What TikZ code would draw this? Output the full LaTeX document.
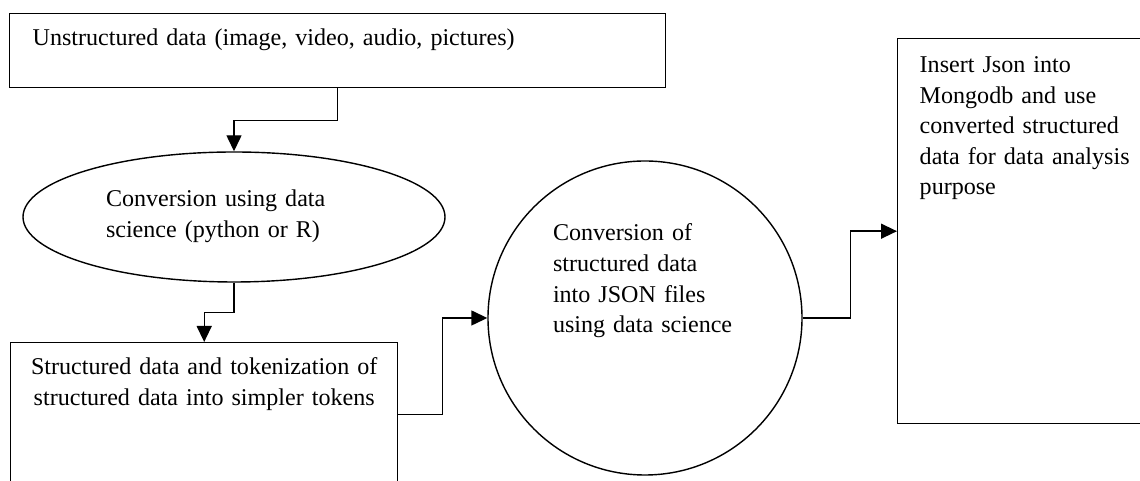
\documentclass[tikz,border=0pt]{standalone}
\usepackage{fontspec}
\setmainfont{Liberation Serif}
\usetikzlibrary{shapes.geometric,arrows.meta}

\begin{document}
\begin{tikzpicture}[
    every node/.style={font=\fontsize{13.7}{17.4}\selectfont},
    stepbox/.style={draw, line width=0.8pt, rectangle, inner ysep=0pt},
    flow/.style={line width=0.8pt, -{Triangle[length=0.32cm, width=0.3cm]}}
  ]
    \useasboundingbox (0,0) rectangle (22.8,9.62);
    \clip (0,0) rectangle (22.8,9.62);

    \node[stepbox, anchor=north west, inner xsep=0.46cm, text width=12.2cm, align=left,
          text height=0.64cm, text depth=0.84cm] (unstr) at (0.18,9.36)
        {Unstructured data (image, video, audio, pictures)};
    \node[draw, line width=0.8pt, ellipse, inner sep=0pt, minimum width=8.44cm, minimum height=2.6cm,
          text width=5.12cm, align=left, text height=0.35cm, text depth=0.75cm] (conv) at (4.68,5.28)
        {Conversion using data\\ science (python or R)};
    \node[stepbox, anchor=north west, inner xsep=0.2cm, text width=7.34cm, align=center,
          text height=0.64cm, text depth=2.24cm] (struct) at (0.2,2.78)
        {Structured data and tokenization of\\ structured data into simpler tokens};
    \node[draw, line width=0.8pt, circle, inner sep=0pt, minimum size=6.28cm, text width=3.68cm,
          align=left, text height=0.4cm, text depth=3.48cm] (json) at (12.9,3.26)
        {Conversion of\\ structured data\\ into JSON files\\ using data science};
    \node[stepbox, anchor=north west, inner xsep=0.44cm, text width=4.6cm, align=left,
          text height=0.68cm, text depth=7.02cm] (mongo) at (17.94,8.86)
        {Insert Json into\\ Mongodb and use\\ converted structured\\ data for data analysis\\ purpose};

    \draw[flow] (unstr.south) -- ++(0,-0.64) -| (conv.north);
    \draw[flow] (conv.south) -- ++(0,-0.6) -| (struct.north);
    \draw[flow] (struct.east) -- ++(0.88,0) |- (json.west);
    \draw[flow] (json.east) -- ++(0.96,0) |- (mongo.west);
\end{tikzpicture}
\end{document}
